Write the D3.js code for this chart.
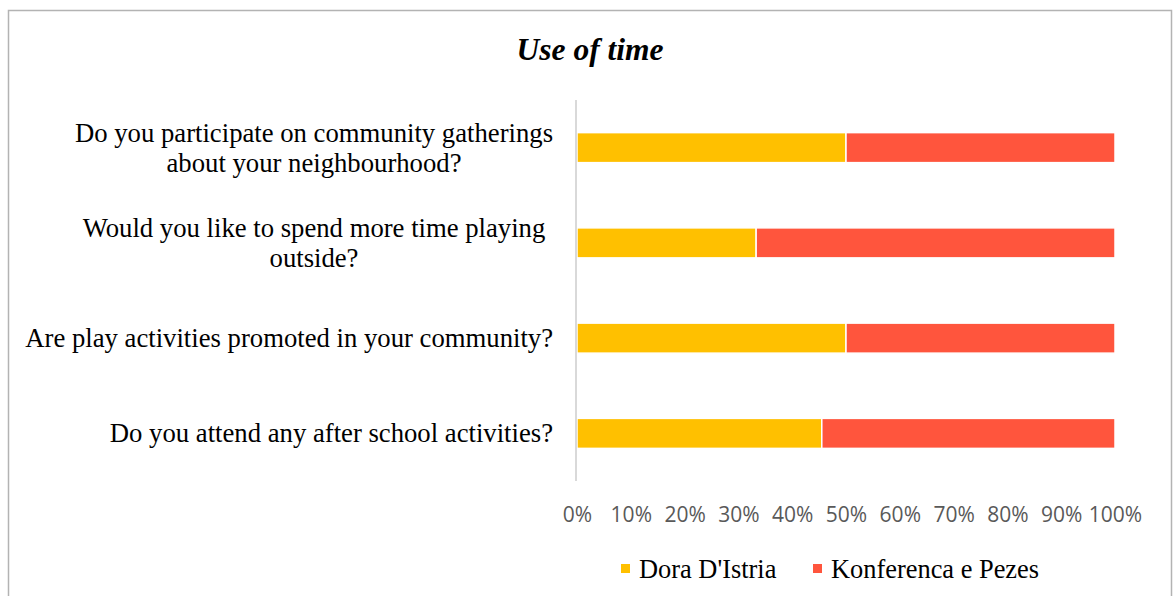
<!DOCTYPE html>
<html>
<head>
<meta charset="utf-8">
<script src="https://cdn.jsdelivr.net/npm/d3@7/dist/d3.min.js"></script>
<style>
  html, body { margin: 0; padding: 0; background: #fff; }
  svg { display: block; }
</style>
</head>
<body>
<svg id="chart" width="1173" height="596"></svg>
<script>
// Questions, top to bottom (each entry holds the wrapped lines of its label)
const categories = [
  ["Do you participate on community gatherings", "about your neighbourhood?"],
  ["Would you like to spend more time playing", "outside?"],
  ["Are play activities promoted in your community?"],
  ["Do you attend any after school activities?"]
];
const seriesNames = ["Dora D'Istria", "Konferenca e Pezes"];
const doraValues = [50, 33.3, 50, 45.5];
const konferencaValues = [50, 66.7, 50, 54.5];
const tickValues = [0, 10, 20, 30, 40, 50, 60, 70, 80, 90, 100];
const colors = ["#FFC000", "#FF553D"];

const svg = d3.select("#chart");

// outer frame
svg.append("rect")
  .attr("x", 8.5).attr("y", 10.5)
  .attr("width", 1163).attr("height", 600)
  .attr("fill", "#fff").attr("stroke", "#b3b3b3").attr("stroke-width", 1.5);

// title
svg.append("text")
  .attr("x", 590).attr("y", 60)
  .attr("text-anchor", "middle")
  .attr("font-family", "Liberation Serif, Times New Roman, serif")
  .attr("font-size", 31.5).attr("font-weight", "bold").attr("font-style", "italic")
  .attr("fill", "#000")
  .text("Use of time");

const plot = { left: 577, right: 1115, top: 100, bottom: 481 };

const x = d3.scaleLinear().domain([0, 100]).range([plot.left, plot.right]);
const y = d3.scaleBand()
  .domain(d3.range(categories.length))
  .range([plot.top, plot.bottom])
  .paddingInner(0.685).paddingOuter(0.3425);

const stacked = d3.stack().keys([0, 1])
  .value((d, k) => d[k])(doraValues.map((v, i) => [v, konferencaValues[i]]));

// bars
stacked.forEach((layer, si) => {
  svg.append("g").selectAll("rect")
    .data(layer)
    .join("rect")
    .attr("x", d => x(d[0]))
    .attr("y", (d, i) => y(i))
    .attr("width", d => x(d[1]) - x(d[0]))
    .attr("height", y.bandwidth())
    .attr("fill", colors[si])
    .attr("stroke", "#fff").attr("stroke-width", 1.5);
});

// vertical category axis line
svg.append("line")
  .attr("x1", plot.left - 1).attr("x2", plot.left - 1)
  .attr("y1", plot.top).attr("y2", plot.bottom)
  .attr("stroke", "#d9d9d9").attr("stroke-width", 2);

// category labels
const labelG = svg.append("g")
  .attr("font-family", "Liberation Serif, Times New Roman, serif")
  .attr("font-size", 26.7).attr("fill", "#000");
categories.forEach((lines, i) => {
  const cy = y(i) + y.bandwidth() / 2;
  const multi = lines.length > 1;
  const t = labelG.append("text")
    .attr("text-anchor", multi ? "middle" : "end")
    .attr("dominant-baseline", "central");
  lines.forEach((ln, j) => {
    t.append("tspan")
      .attr("x", multi ? 314 : 553)
      .attr("y", cy + (j - (lines.length - 1) / 2) * 30)
      .text(ln);
  });
});

// value axis
const xAxis = d3.axisBottom(x)
  .tickValues(tickValues)
  .tickFormat(d => d + "%")
  .tickSize(0).tickPadding(0);
const axG = svg.append("g")
  .attr("transform", `translate(0, 515)`)
  .call(xAxis);
axG.select(".domain").remove();
axG.selectAll("text")
  .attr("font-family", "Open Sans, sans-serif")
  .attr("font-size", 21)
  .attr("fill", "#595959")
  .attr("dy", "0.35em")
  .attr("y", 0);

// legend
const legend = svg.append("g")
  .attr("font-family", "Liberation Serif, Times New Roman, serif")
  .attr("font-size", 26.4);
const legendX = [621, 813];
seriesNames.forEach((name, i) => {
  legend.append("rect")
    .attr("x", legendX[i]).attr("y", 564)
    .attr("width", 9).attr("height", 9)
    .attr("fill", colors[i]);
  legend.append("text")
    .attr("x", legendX[i] + 18).attr("y", 569)
    .attr("dominant-baseline", "central")
    .attr("fill", "#000")
    .text(name);
});
</script>
</body>
</html>
